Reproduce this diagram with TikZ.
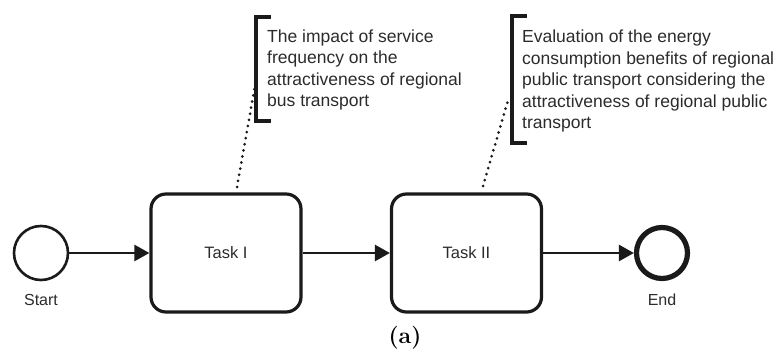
\documentclass[tikz,border=0pt]{standalone}
\usepackage{fontspec}
\newfontfamily\diagsans{Liberation Sans}
\usetikzlibrary{arrows.meta}
\definecolor{ink}{HTML}{1A1A1A}
\definecolor{txt}{HTML}{2B2B2B}
\tikzset{
  evstart/.style={circle, draw=ink, line width=2.6pt, minimum size=54pt, inner sep=0pt},
  evend/.style={circle, draw=ink, line width=5.2pt, minimum size=51pt, inner sep=0pt},
  taskbox/.style={rectangle, rounded corners=15pt, draw=ink, line width=3.2pt, minimum width=150pt, minimum height=118pt, inner sep=0pt, text=txt, font=\diagsans\fontsize{16.5}{20}\selectfont},
  evlabel/.style={text=txt, font=\diagsans\fontsize{16}{19}\selectfont, inner sep=0pt},
  flow/.style={draw=ink, line width=2.6pt, -{Triangle[length=15pt,width=16pt]}},
  annot/.style={text=txt, font=\diagsans\fontsize{17.5}{21.5}\selectfont, align=left, anchor=north west, inner sep=0pt},
  bracket/.style={draw=ink, line width=3.2pt},
  assoc/.style={draw=ink, line width=3pt, line cap=round, dash pattern=on 0pt off 6.2pt},
}
\begin{document}
\begin{tikzpicture}[x=1pt,y=-1pt]
\useasboundingbox (0,0) rectangle (784,352);
% events and tasks
\node[evstart] (start) at (41,253) {};
\node[evlabel] (startlbl) at (41,300) {Start};
\node[taskbox] (t1) at (226,253) {Task I};
\node[taskbox] (t2) at (466.5,253) {Task II};
\node[evend] (end) at (662,253) {};
\node[evlabel] (endlbl) at (662,300) {End};
% flows
\draw[flow] (start) -- (t1);
\draw[flow] (t1) -- (t2);
\draw[flow] (t2) -- (end);
% annotation 1
\coordinate (b1t) at (271,17);
\coordinate (b1b) at (271,121);
\coordinate (b1m) at (256,80);
\draw[bracket] (b1t) -- (256,17) -- (256,121) -- (b1b);
\node[annot] (a1) at (267,29.5) {The impact of service\\frequency on the\\attractiveness of regional\\bus transport};
\coordinate (t1top) at (237,187);
\draw[assoc] (t1top) -- (b1m);
% annotation 2
\coordinate (b2t) at (527,16);
\coordinate (b2b) at (527,143);
\coordinate (b2m) at (509,97);
\draw[bracket] (b2t) -- (512,16) -- (512,143) -- (b2b);
\node[annot] (a2) at (522,30) {Evaluation of the energy\\consumption benefits of regional\\public transport considering the\\attractiveness of regional public\\transport};
\coordinate (t2top) at (483,186);
\draw[assoc] (t2top) -- (b2m);
% caption
\node[inner sep=0pt, font=\fontsize{23}{26}\selectfont\bfseries] (cap) at (405,338) {(a)};
\end{tikzpicture}
\end{document}
